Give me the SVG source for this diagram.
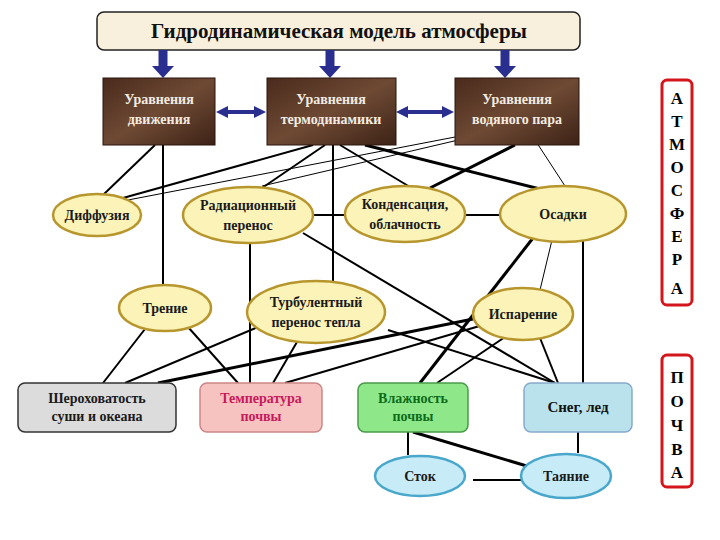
<svg xmlns="http://www.w3.org/2000/svg" width="720" height="540" viewBox="0 0 720 540">
<defs>
<marker id="ah" viewBox="0 0 10 10" refX="5" refY="5" markerWidth="3" markerHeight="3" orient="auto-start-reverse"><path d="M0,0L10,5L0,10z" fill="#2a2f8f"/></marker>
<linearGradient id="br" x1="0" y1="0" x2="1" y2="1"><stop offset="0" stop-color="#4a2a1c"/><stop offset="0.5" stop-color="#6e4a34"/><stop offset="1" stop-color="#3d2216"/></linearGradient>
</defs>
<style>
text{font-family:"Liberation Serif",serif;text-anchor:middle;font-weight:bold}
.el{fill:#fbf3b8;stroke:#b8962e;stroke-width:2.5}
.eb{fill:#c7ecf7;stroke:#4aa7cc;stroke-width:2.5}
.bx{fill:url(#br);stroke:#2a150c}
.wt{fill:#f4ece0;font-size:14px}
.bt{fill:#1a1a1a;font-size:14px}
.c line{stroke:#000;stroke-width:2}
.c .th{stroke-width:3}
.c .tn{stroke-width:1}
.ar{stroke:#2a2f8f;stroke-width:9;fill:none}
.sd{fill:#fff;stroke:#d3161c;stroke-width:3}
.lt{font-size:17px;fill:#000}
</style>
<rect width="720" height="540" fill="#fff"/>
<g id="title"><rect x="97" y="12" width="483" height="38" rx="7" fill="#f8f0dc" stroke="#222" stroke-width="1.5"/><text x="339" y="38" font-size="21" fill="#111">Гидродинамическая модель атмосферы</text></g>
<g id="arrows">
<line class="ar" x1="163" y1="50" x2="163" y2="66"/><path d="M152,66h22l-11,12z" fill="#2a2f8f"/>
<line class="ar" x1="330" y1="50" x2="330" y2="66"/><path d="M319,66h22l-11,12z" fill="#2a2f8f"/>
<line class="ar" x1="505" y1="50" x2="505" y2="66"/><path d="M494,66h22l-11,12z" fill="#2a2f8f"/>
<line x1="222" y1="112" x2="260" y2="112" stroke="#2a2f8f" stroke-width="4" marker-start="url(#ah)" marker-end="url(#ah)"/>
<line x1="402" y1="112" x2="448" y2="112" stroke="#2a2f8f" stroke-width="4" marker-start="url(#ah)" marker-end="url(#ah)"/>
</g>
<g class="c" id="connectors">
<line x1="155" y1="145" x2="103" y2="195"/>
<line x1="163" y1="145" x2="163" y2="287"/>
<line x1="145" y1="329" x2="103" y2="383"/>
<line x1="188" y1="327" x2="238" y2="383"/>
<line x1="313" y1="145" x2="123" y2="198"/>
<line x1="325" y1="145" x2="262" y2="188"/>
<line x1="333" y1="145" x2="333" y2="283"/>
<line x1="340" y1="145" x2="410" y2="187"/>
<line class="th" x1="365" y1="145" x2="540" y2="189"/>
<line class="tn" x1="481" y1="132" x2="128" y2="200"/>
<line class="tn" x1="484" y1="134" x2="262" y2="186"/>
<line class="th" x1="515" y1="145" x2="430" y2="188"/>
<line class="tn" x1="535" y1="140" x2="565" y2="186"/>
<line x1="313" y1="215" x2="345" y2="215"/>
<line x1="465" y1="215" x2="500" y2="215"/>
<line x1="250" y1="243" x2="250" y2="383"/>
<line x1="303" y1="233" x2="555" y2="383"/>
<line class="th" x1="533" y1="238" x2="420" y2="383"/>
<line class="tn" x1="552" y1="240" x2="540" y2="290"/>
<line x1="583" y1="240" x2="583" y2="383"/>
<line x1="258" y1="327" x2="125" y2="383"/>
<line x1="297" y1="342" x2="273" y2="383"/>
<line x1="388" y1="330" x2="555" y2="383"/>
<line class="th" x1="478" y1="318" x2="158" y2="383"/>
<line x1="483" y1="325" x2="285" y2="383"/>
<line x1="505" y1="337" x2="437" y2="383"/>
<line x1="540" y1="338" x2="558" y2="383"/>
<line x1="408" y1="432" x2="408" y2="455"/>
<line class="th" x1="413" y1="432" x2="540" y2="470"/>
<line x1="473" y1="480" x2="535" y2="480"/>
<line x1="578" y1="432" x2="578" y2="453"/>
</g>
<g id="n-motion"><rect class="bx" x="103" y="78" width="112" height="67"/><text class="wt" x="159" y="104">Уравнения</text><text class="wt" x="159" y="124">движения</text></g>
<g id="n-thermo"><rect class="bx" x="267" y="78" width="129" height="67"/><text class="wt" x="331" y="104">Уравнения</text><text class="wt" x="331" y="124">термодинамики</text></g>
<g id="n-vapor"><rect class="bx" x="455" y="78" width="124" height="67"/><text class="wt" x="517" y="104">Уравнения</text><text class="wt" x="517" y="124">водяного пара</text></g>
<g id="n-diff"><ellipse class="el" cx="97" cy="215" rx="44" ry="21"/><text class="bt" x="97" y="220">Диффузия</text></g>
<g id="n-rad"><ellipse class="el" cx="248" cy="215" rx="65" ry="28"/><text class="bt" x="248" y="210">Радиационный</text><text class="bt" x="248" y="230">перенос</text></g>
<g id="n-cond"><ellipse class="el" cx="405" cy="214" rx="60" ry="28"/><text class="bt" x="405" y="209">Конденсация,</text><text class="bt" x="405" y="229">облачность</text></g>
<g id="n-prec"><ellipse class="el" cx="563" cy="214" rx="63" ry="28"/><text class="bt" x="563" y="219">Осадки</text></g>
<g id="n-fric"><ellipse class="el" cx="165" cy="308" rx="46" ry="23"/><text class="bt" x="165" y="313">Трение</text></g>
<g id="n-turb"><ellipse class="el" cx="316" cy="312" rx="69" ry="31"/><text class="bt" x="316" y="307">Турбулентный</text><text class="bt" x="316" y="327">перенос тепла</text></g>
<g id="n-evap"><ellipse class="el" cx="523" cy="314" rx="50" ry="26"/><text class="bt" x="523" y="319">Испарение</text></g>
<g id="n-rough"><rect x="18" y="383" width="158" height="49" rx="7" fill="#dcdcdc" stroke="#333" stroke-width="1.5"/><text class="bt" x="97" y="403">Шероховатость</text><text class="bt" x="97" y="421">суши и океана</text></g>
<g id="n-temp"><rect x="200" y="383" width="122" height="49" rx="7" fill="#f7c3c0" stroke="#c88" stroke-width="1.5"/><text class="bt" x="261" y="403" fill="#c8185c" style="fill:#c8185c">Температура</text><text class="bt" x="261" y="421" style="fill:#c8185c">почвы</text></g>
<g id="n-moist"><rect x="358" y="383" width="110" height="49" rx="7" fill="#8ee88a" stroke="#4a9a4a" stroke-width="1.5"/><text class="bt" x="413" y="403" style="fill:#0d6b1a">Влажность</text><text class="bt" x="413" y="421" style="fill:#0d6b1a">почвы</text></g>
<g id="n-snow"><rect x="524" y="383" width="108" height="49" rx="7" fill="#b9e2ec" stroke="#8ac" stroke-width="1.5"/><text x="578" y="412" font-size="15" fill="#111">Снег, лед</text></g>
<g id="n-runoff"><ellipse class="eb" cx="420" cy="476" rx="45" ry="20"/><text class="bt" x="420" y="481">Сток</text></g>
<g id="n-melt"><ellipse class="eb" cx="566" cy="476" rx="45" ry="22"/><text class="bt" x="566" y="481">Таяние</text></g>
<g id="side-atm"><rect class="sd" x="662" y="80" width="30" height="225" rx="5"/>
<text class="lt" x="677" y="104">А</text><text class="lt" x="677" y="127">Т</text><text class="lt" x="677" y="150">М</text><text class="lt" x="677" y="173">О</text><text class="lt" x="677" y="196">С</text><text class="lt" x="677" y="219">Ф</text><text class="lt" x="677" y="242">Е</text><text class="lt" x="677" y="265">Р</text><text class="lt" x="677" y="294">А</text></g>
<g id="side-soil"><rect class="sd" x="662" y="355" width="30" height="132" rx="5"/>
<text class="lt" x="677" y="383">П</text><text class="lt" x="677" y="407">О</text><text class="lt" x="677" y="431">Ч</text><text class="lt" x="677" y="455">В</text><text class="lt" x="677" y="478">А</text></g>
</svg>
